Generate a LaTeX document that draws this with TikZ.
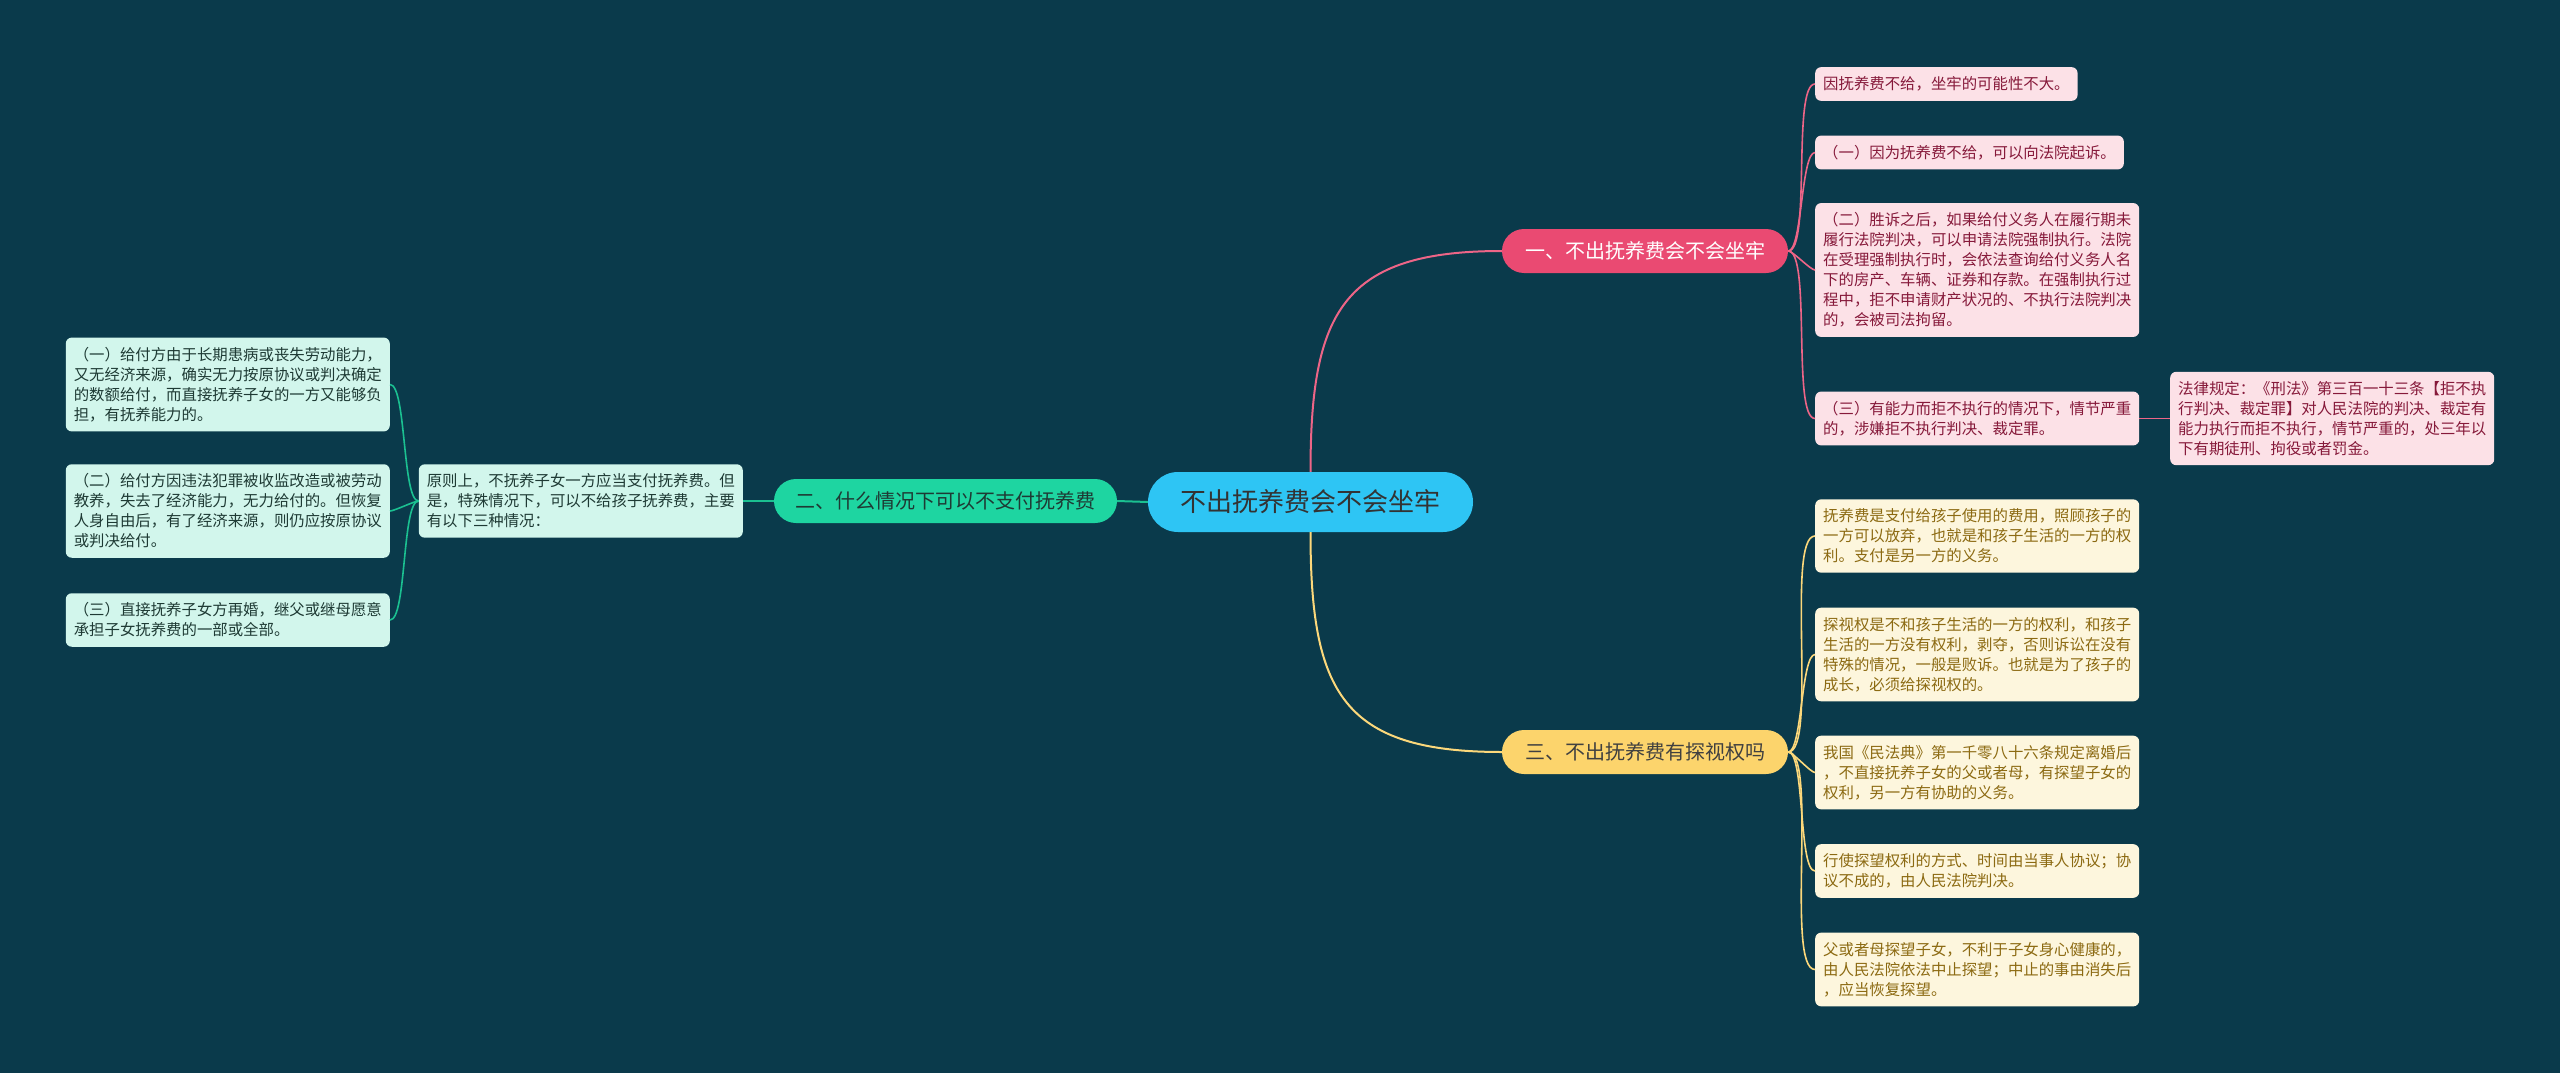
\documentclass[tikz,border=0pt]{standalone}
\usepackage{fontspec}
\setmainfont{Noto Sans CJK SC}

\definecolor{bgc}{HTML}{0A3A4B}
\definecolor{hubc}{HTML}{2EC5F4}
\definecolor{pinkc}{HTML}{EA4A72}
\definecolor{greenc}{HTML}{1ED5A1}
\definecolor{yellowc}{HTML}{FCD46C}
\definecolor{pinkbg}{HTML}{FCE1E7}
\definecolor{greenbg}{HTML}{D2F6EC}
\definecolor{yellowbg}{HTML}{FDF6DD}
\definecolor{pinktxt}{HTML}{86193A}
\definecolor{greentxt}{HTML}{1E3A34}
\definecolor{yellowtxt}{HTML}{8C6A12}

\newcommand\leaffont{\fontsize{15.4}{20}\selectfont}

\begin{document}
\begin{tikzpicture}[x=1pt, y=1pt,
      hubbox/.style={fill=hubc, text=black!80, rounded corners=30pt, minimum width=325pt,
        minimum height=60pt, font=\fontsize{26}{30}\selectfont},
      topicbox/.style={rounded corners=22pt, minimum height=44pt, font=\fontsize{20}{24}\selectfont},
      leafbox/.style={rounded corners=6pt, align=left, font=\leaffont, inner xsep=8pt, inner ysep=9.5pt},
      pinkleaf/.style={leafbox, fill=pinkbg, text=pinktxt},
      greenleaf/.style={leafbox, fill=greenbg, text=greentxt},
      yellowleaf/.style={leafbox, fill=yellowbg, text=yellowtxt},
      pinkln/.style={draw=pinkc!85!white, line width=1.6pt},
      greenln/.style={draw=greenc!90!black, line width=1.6pt},
      yellowln/.style={draw=yellowc!90!white, line width=1.6pt}]

    \useasboundingbox (0,0) rectangle (2560,-1073);
    \fill[bgc] (0,0) rectangle (2560,-1073);

    % centre and main topics
    \node[hubbox] (hub) at (1310.5,-502) {不出抚养费会不会坐牢};
    \node[topicbox, fill=pinkc, text=white, minimum width=286pt] (t1) at (1645,-251) {一、不出抚养费会不会坐牢};
    \node[topicbox, fill=greenc, text=greentxt, minimum width=343pt] (t2) at (945.5,-501) {二、什么情况下可以不支付抚养费};
    \node[topicbox, fill=yellowc, text=black!75, minimum width=286pt] (t3) at (1645,-752) {三、不出抚养费有探视权吗};

    % first topic
    \node[pinkleaf, anchor=west] (p1) at (1815,-84) {因抚养费不给，坐牢的可能性不大。};
    \node[pinkleaf, anchor=west] (p2) at (1815,-152.5) {（一）因为抚养费不给，可以向法院起诉。};
    \node[pinkleaf, anchor=west] (p3) at (1815,-270) {（二）胜诉之后，如果给付义务人在履行期未\\履行法院判决，可以申请法院强制执行。法院\\在受理强制执行时，会依法查询给付义务人名\\下的房产、车辆、证券和存款。在强制执行过\\程中，拒不申请财产状况的、不执行法院判决\\的，会被司法拘留。};
    \node[pinkleaf, anchor=west] (p4) at (1815,-418.5) {（三）有能力而拒不执行的情况下，情节严重\\的，涉嫌拒不执行判决、裁定罪。};
    \node[pinkleaf, anchor=west] (p5) at (2170,-418.5) {法律规定：《刑法》第三百一十三条【拒不执\\行判决、裁定罪】对人民法院的判决、裁定有\\能力执行而拒不执行，情节严重的，处三年以\\下有期徒刑、拘役或者罚金。};

    % second topic
    \node[greenleaf, anchor=east] (g0) at (743,-501) {原则上，不抚养子女一方应当支付抚养费。但\\是，特殊情况下，可以不给孩子抚养费，主要\\有以下三种情况：};
    \node[greenleaf, anchor=east] (g1) at (390,-384.5) {（一）给付方由于长期患病或丧失劳动能力，\\又无经济来源，确实无力按原协议或判决确定\\的数额给付，而直接抚养子女的一方又能够负\\担，有抚养能力的。};
    \node[greenleaf, anchor=east] (g2) at (390,-511) {（二）给付方因违法犯罪被收监改造或被劳动\\教养，失去了经济能力，无力给付的。但恢复\\人身自由后，有了经济来源，则仍应按原协议\\或判决给付。};
    \node[greenleaf, anchor=east] (g3) at (390,-620) {（三）直接抚养子女方再婚，继父或继母愿意\\承担子女抚养费的一部或全部。};

    % third topic
    \node[yellowleaf, anchor=west] (y1) at (1815,-536) {抚养费是支付给孩子使用的费用，照顾孩子的\\一方可以放弃，也就是和孩子生活的一方的权\\利。支付是另一方的义务。};
    \node[yellowleaf, anchor=west] (y2) at (1815,-654.5) {探视权是不和孩子生活的一方的权利，和孩子\\生活的一方没有权利，剥夺，否则诉讼在没有\\特殊的情况，一般是败诉。也就是为了孩子的\\成长，必须给探视权的。};
    \node[yellowleaf, anchor=west] (y3) at (1815,-772.5) {我国《民法典》第一千零八十六条规定离婚后\\，不直接抚养子女的父或者母，有探望子女的\\权利，另一方有协助的义务。};
    \node[yellowleaf, anchor=west] (y4) at (1815,-871) {行使探望权利的方式、时间由当事人协议；协\\议不成的，由人民法院判决。};
    \node[yellowleaf, anchor=west] (y5) at (1815,-969.5) {父或者母探望子女，不利于子女身心健康的，\\由人民法院依法中止探望；中止的事由消失后\\，应当恢复探望。};

    % connectors
    \draw[pinkln, line width=2pt] (hub.north) to[out=90, in=180, looseness=1.4] (t1.west);
    \draw[yellowln, line width=2pt] (hub.south) to[out=-90, in=180, looseness=1.4] (t3.west);
    \draw[greenln, line width=2pt] (hub.west) -- (t2.east);
    \draw[greenln] (t2.west) -- (g0.east);
    \foreach \n in {g1,g2,g3} { \draw[greenln] (g0.west) to[out=180, in=0, looseness=.35] (\n.east); }
    \foreach \n in {p1,p2,p3,p4} { \draw[pinkln] (t1.east) to[out=0, in=180, looseness=.35] (\n.west); }
    \draw[pinkln] (p4.east) -- (p5.west);
    \foreach \n in {y1,y2,y3,y4,y5} { \draw[yellowln] (t3.east) to[out=0, in=180, looseness=.35] (\n.west); }
  \end{tikzpicture}
\end{document}
